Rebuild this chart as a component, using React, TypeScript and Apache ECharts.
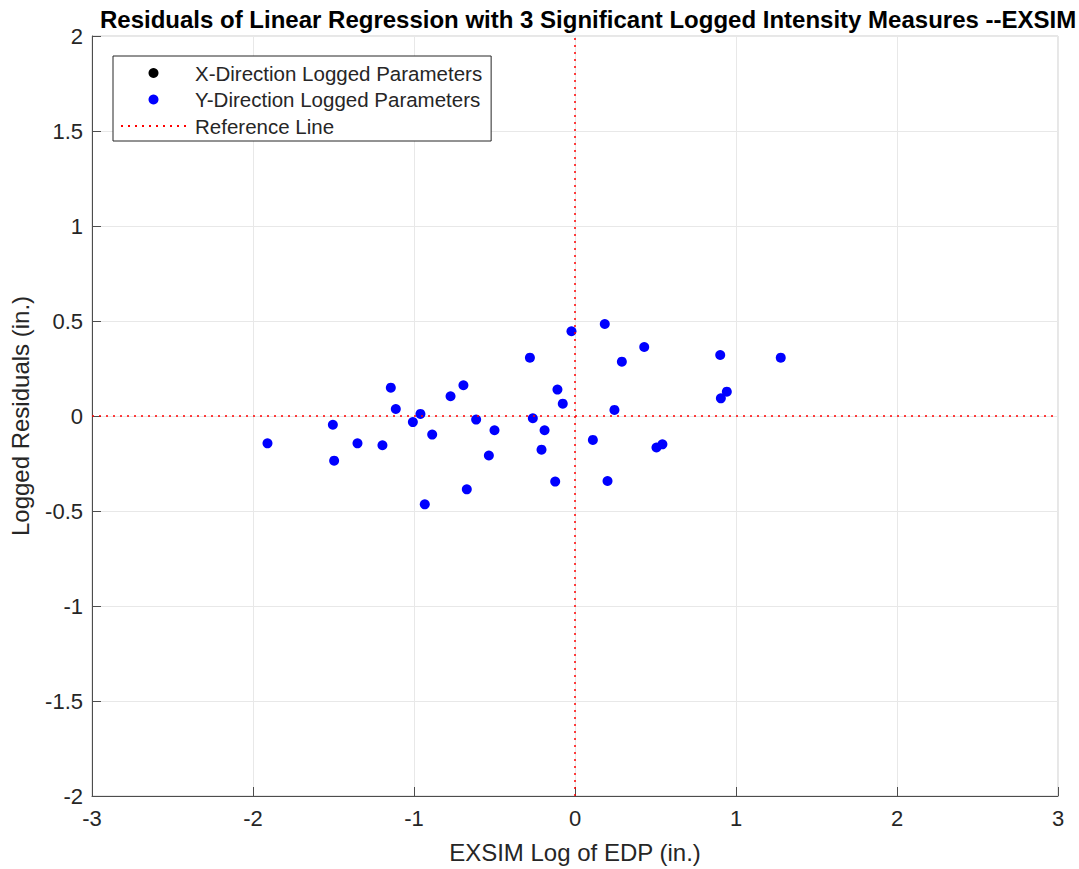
import React, { useEffect, useRef } from "react";
import * as echarts from "echarts";

const titleText =
  "Residuals of Linear Regression with 3 Significant Logged Intensity Measures --EXSIM";
const xName = "EXSIM Log of EDP (in.)";
const yName = "Logged Residuals (in.)";
const legendNames = [
  "X-Direction Logged Parameters",
  "Y-Direction Logged Parameters",
  "Reference Line",
];

// X-direction points are not visible in the picture (hidden / none)
const xDirPoints: number[][] = [];

const yDirX = [
  -1.91, -1.504, -1.496, -1.351, -1.196, -1.144, -1.113, -1.007, -0.96, -0.933,
  -0.887, -0.773, -0.693, -0.672, -0.614, -0.535, -0.5, -0.28, -0.262, -0.208,
  -0.189, -0.123, -0.109, -0.076, -0.022, 0.111, 0.185, 0.202, 0.245, 0.291,
  0.43, 0.506, 0.543, 0.902, 0.906, 0.943, 1.278,
];
const yDirY = [
  -0.144, -0.046, -0.235, -0.144, -0.154, 0.149, 0.037, -0.032, 0.011, -0.465,
  -0.098, 0.104, 0.162, -0.386, -0.019, -0.208, -0.075, 0.307, -0.012, -0.177,
  -0.075, -0.345, 0.139, 0.065, 0.446, -0.126, 0.484, -0.342, 0.032, 0.286,
  0.363, -0.166, -0.149, 0.321, 0.093, 0.128, 0.307,
];

const refX = 0;
const refY = 0;

const FONT = "'Liberation Sans', Arial, Helvetica, sans-serif";

export default function App() {
  const ref = useRef<HTMLDivElement>(null);
  useEffect(() => {
    if (!ref.current) return;
    const chart = echarts.init(ref.current, undefined, { renderer: "svg" });
    const yDirPoints = yDirX.map((x, i) => [x, yDirY[i]]);
    chart.setOption({
      animation: false,
      backgroundColor: "#ffffff",
      textStyle: { fontFamily: FONT },
      title: {
        text: titleText,
        left: 95,
        top: 2,
        padding: 5,
        textStyle: {
          fontFamily: FONT,
          fontSize: 24,
          fontWeight: "bold",
          color: "#000000",
        },
      },
      legend: {
        orient: "vertical",
        left: 113,
        top: 56,
        padding: [6, 9, 4, 7],
        itemWidth: 65,
        itemHeight: 10,
        itemGap: 4.5,
        borderColor: "#262626",
        borderWidth: 1,
        backgroundColor: "#ffffff",
        selectedMode: false,
        data: [
          legendNames[0],
          legendNames[1],
          { name: legendNames[2], itemStyle: { opacity: 0 } },
        ],
        textStyle: {
          fontFamily: FONT,
          fontSize: 20.5,
          lineHeight: 22,
          color: "#262626",
          padding: [0, 0, 0, 4],
        },
      },
      grid: {
        left: 91,
        right: 21,
        top: 36,
        bottom: 70,
        show: true,
        borderColor: "#cfcfcf",
        borderWidth: 1,
        backgroundColor: "transparent",
      },
      xAxis: {
        type: "value",
        min: -3,
        max: 3,
        interval: 1,
        name: xName,
        nameLocation: "middle",
        nameGap: 44,
        nameTextStyle: { fontFamily: FONT, fontSize: 24, color: "#262626" },
        axisLine: { show: true, onZero: false, lineStyle: { color: "#4d4d4d", width: 1 } },
        axisTick: { show: true, inside: true, length: 9, lineStyle: { color: "#4d4d4d" } },
        axisLabel: { fontFamily: FONT, fontSize: 22, color: "#262626", margin: 11 },
        splitLine: { show: true, lineStyle: { color: "#e8e8e8", width: 1 } },
      },
      yAxis: {
        type: "value",
        min: -2,
        max: 2,
        interval: 0.5,
        name: yName,
        nameLocation: "middle",
        nameGap: 60,
        nameTextStyle: { fontFamily: FONT, fontSize: 24, color: "#262626" },
        axisLine: { show: true, onZero: false, lineStyle: { color: "#4d4d4d", width: 1 } },
        axisTick: { show: true, inside: true, length: 9, lineStyle: { color: "#4d4d4d" } },
        axisLabel: { fontFamily: FONT, fontSize: 22, color: "#262626", margin: 9 },
        splitLine: { show: true, lineStyle: { color: "#e8e8e8", width: 1 } },
      },
      series: [
        {
          name: legendNames[0],
          type: "scatter",
          symbol: "circle",
          symbolSize: 10,
          itemStyle: { color: "#000000", opacity: 1 },
          data: xDirPoints,
        },
        {
          name: legendNames[2],
          type: "line",
          symbol: "none",
          showSymbol: false,
          data: [],
          lineStyle: { color: "#ff0000", width: 1.5, type: [2, 5] },
          itemStyle: { color: "#ff0000" },
          markLine: {
            silent: true,
            symbol: "none",
            label: { show: false },
            lineStyle: { color: "#ff0000", width: 1.5, type: [2, 5] },
            data: [{ xAxis: refX }, { yAxis: refY }],
          },
        },
        {
          name: legendNames[1],
          type: "scatter",
          symbol: "circle",
          symbolSize: 10,
          itemStyle: { color: "#0000ff", opacity: 1 },
          data: yDirPoints,
          z: 3,
        },
      ],
    });
    return () => chart.dispose();
  }, []);
  return (
    <div
      ref={ref}
      style={{ position: "fixed", left: 0, top: 0, width: 1079, height: 869 }}
    />
  );
}
